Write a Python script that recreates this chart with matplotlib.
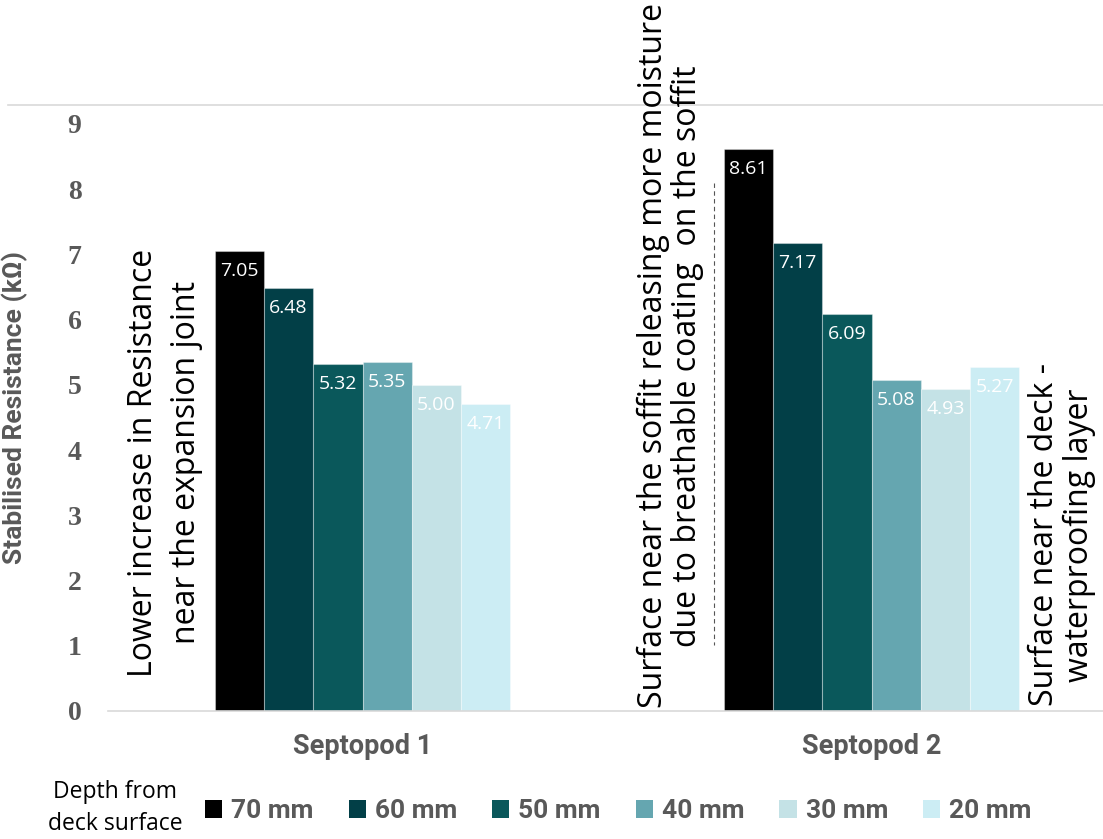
import matplotlib
matplotlib.use("Agg")
import matplotlib.pyplot as plt
from matplotlib.patches import Patch
from matplotlib.lines import Line2D
import numpy as np

# data
groups = ["Septopod 1", "Septopod 2"]
depths = ["70 mm", "60 mm", "50 mm", "40 mm", "30 mm", "20 mm"]
resistance = {
    "70 mm": [7.05, 8.61],
    "60 mm": [6.48, 7.17],
    "50 mm": [5.32, 6.09],
    "40 mm": [5.35, 5.08],
    "30 mm": [5.00, 4.93],
    "20 mm": [4.71, 5.27],
}
colors = ["#000000", "#023F47", "#0A585B", "#65A6B0", "#C4E2E6", "#CCEDF4"]
yticks = list(range(10))

notes = [
    "Lower increase in Resistance\nnear the expansion joint",
    "Surface near the soffit releasing more moisture\ndue to breathable coating  on the soffit",
    "Surface near the deck -\nwaterproofing layer",
]

W, H = 1103, 839
GRAY = "#595959"
NARROW = "Roboto"


def fx(px):
    return px / W


def fy(py):
    return 1 - py / H


fig = plt.figure(figsize=(W / 100, H / 100), dpi=100)
ax = fig.add_axes([fx(108), fy(711), fx(W - 108), fy(105) - fy(711)])

x = np.arange(len(groups))
width = 0.0969
for i, d in enumerate(depths):
    vals = resistance[d]
    bars = ax.bar(x + (i - 2.5) * width, vals, width, color=colors[i],
                  edgecolor=(1, 1, 1, 0.35), linewidth=0.8, label=d, zorder=2)
    for b, v in zip(bars, vals):
        ax.annotate(f"{v:.2f}", (b.get_x() + b.get_width() / 2, v),
                    xytext=(0, -20), textcoords="offset pixels",
                    ha="center", va="center", color="white",
                    fontsize=14, family="Open Sans", zorder=3)

ax.set_xlim(-0.5, -0.5 + (W - 108) / 509)
ax.set_ylim(0, 9.29)
ax.set_yticks(yticks)
ax.set_yticklabels([str(t) for t in yticks], family="Liberation Serif",
                   fontweight="bold", fontsize=20, color=GRAY)
ax.set_xticks(x)
ax.set_xticklabels(groups, family=NARROW, fontweight="bold", fontsize=19.5, color=GRAY)
ax.tick_params(axis="y", length=0, pad=19)
ax.tick_params(axis="x", length=0, pad=16)
for s in ["top", "right", "left"]:
    ax.spines[s].set_visible(False)
ax.spines["bottom"].set_color("#D9D9D9")
ax.spines["bottom"].set_linewidth(1.2)

ax.set_ylabel("Stabilised Resistance (kΩ)", family=NARROW, fontweight="bold",
              fontsize=19, color=GRAY)
ax.yaxis.set_label_coords((28 - 108) / (W - 108), (711 - 408) / (711 - 105))

# top border line of the plot area
fig.add_artist(Line2D([fx(8), 1], [fy(105), fy(105)], color="#D9D9D9", lw=1.2))
# faint dashed box edge behind the middle note
fig.add_artist(Line2D([fx(714), fx(714)], [fy(183), fy(645)], color="#555555",
                      lw=0.8, ls=(0, (4, 3))))

# rotated annotations
fig.text(fx(165), fy(463), notes[0], rotation=90, ha="center", va="center",
         multialignment="center", fontsize=23, family="Open Sans", linespacing=1.37)
fig.text(fx(670), fy(356), notes[1], rotation=90, ha="center", va="center",
         multialignment="center", fontsize=23, family="Open Sans", linespacing=1.03)
fig.text(fx(1062), fy(535), notes[2], rotation=90, ha="center", va="center",
         multialignment="center", fontsize=23, family="Open Sans", linespacing=1.1)

# legend
fig.text(fx(115), fy(808), "Depth from\ndeck surface", ha="center", va="center",
         multialignment="center", fontsize=16.5, family="Open Sans", linespacing=1.45)
handles = [Patch(facecolor=c, edgecolor="none") for c in colors]
leg = fig.legend(handles, depths, loc="center left", bbox_to_anchor=(fx(205), fy(811)),
                 ncol=6, frameon=False, handlelength=0.65, handleheight=0.65,
                 handletextpad=0.34, columnspacing=1.33, borderpad=0, borderaxespad=0,
                 prop={"family": NARROW, "weight": "bold", "size": 19})
for t in leg.get_texts():
    t.set_color(GRAY)

fig.savefig("out.png", dpi=100)
